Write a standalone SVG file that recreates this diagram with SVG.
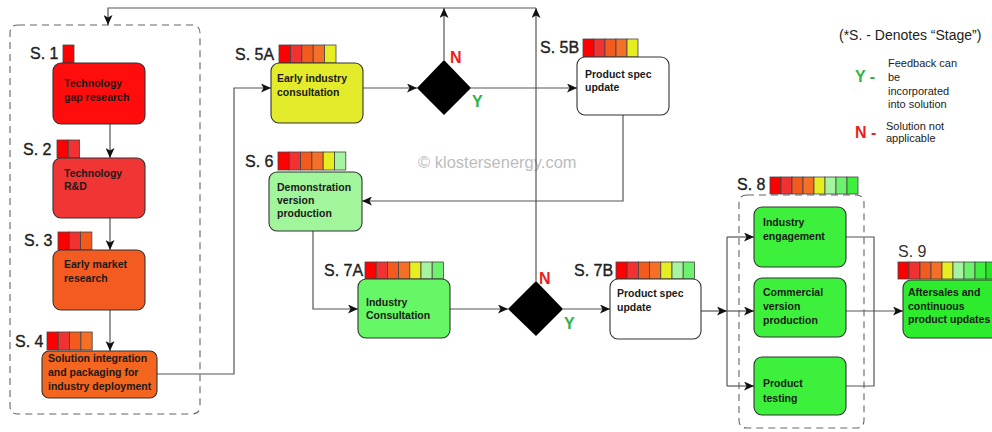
<svg xmlns="http://www.w3.org/2000/svg" width="992" height="432" viewBox="0 0 992 432">
<defs>
<marker id="ah" markerUnits="userSpaceOnUse" markerWidth="11" markerHeight="9" refX="10" refY="4.5" orient="auto">
<path d="M0,0 L10,4.5 L0,9 L2.5,4.5 z" fill="#111"/>
</marker>
<style>
.bg{fill:#fff}
.box{stroke:#333;stroke-width:1.1}
.cell{stroke:#444;stroke-width:0.8}
.lbl{font-family:"Liberation Sans",Arial,sans-serif;font-size:16px;fill:#222;stroke:#222;stroke-width:0.35}
.t{font-family:"Liberation Sans",Arial,sans-serif;font-size:10.5px;font-weight:bold;fill:#1a1a1a}
.con{fill:none;stroke:#555;stroke-width:1.2}
.dash{fill:none;stroke:#666;stroke-width:1.1;stroke-dasharray:7 5}
.c1{fill:#ff0000}.c2{fill:#f03232}.c3{fill:#f25a1e}.c4{fill:#f47026}.c5{fill:#e6ee22}.c6{fill:#a6f3a0}.c7{fill:#6cf26c}.c8{fill:#3cf03c}.c9{fill:#22e822}
.leg{font-family:"Liberation Sans",Arial,sans-serif;font-size:11px;fill:#222}
.yn{font-family:"Liberation Sans",Arial,sans-serif;font-size:16px;font-weight:bold}
</style>
</defs>
<rect class="bg" x="0" y="0" width="992" height="432"/>

<text x="418" y="168" font-family="Liberation Sans,Arial,sans-serif" font-size="16.5" fill="#bdbdbd">© klostersenergy.com</text>

<path class="dash" d="M18,25 H192 Q200,25 200,33 V406 Q200,414 192,414 H18 Q10,414 10,406 V33 Q10,25 18,25 Z"/>
<path class="dash" d="M747,195 H856 Q864,195 864,203 V420 Q864,428 856,428 H747 Q739,428 739,420 V203 Q739,195 747,195 Z"/>

<g id="connectors">
<path class="con" marker-end="url(#ah)" d="M110,124 V158"/>
<path class="con" marker-end="url(#ah)" d="M110,218 V250"/>
<path class="con" marker-end="url(#ah)" d="M110,310 V351"/>
<path class="con" marker-end="url(#ah)" d="M157,374 H234 V88 H271"/>
<path class="con" marker-end="url(#ah)" d="M363,88 H417"/>
<path class="con" marker-end="url(#ah)" d="M471,88 H577"/>
<path class="con" marker-end="url(#ah)" d="M444,60 V8"/>
<path class="con" marker-end="url(#ah)" d="M536,281 V8"/>
<path class="con" marker-end="url(#ah)" d="M536,8 H108 V25"/>
<path class="con" marker-end="url(#ah)" d="M623,115 V201 H362"/>
<path class="con" marker-end="url(#ah)" d="M313,231 V309 H358"/>
<path class="con" marker-end="url(#ah)" d="M450,309 H508"/>
<path class="con" marker-end="url(#ah)" d="M563,309 H610"/>
<path class="con" marker-end="url(#ah)" d="M701,311 H727"/>
<path class="con" d="M727,237 V386"/>
<path class="con" marker-end="url(#ah)" d="M727,237 H754"/>
<path class="con" marker-end="url(#ah)" d="M727,311 H754"/>
<path class="con" marker-end="url(#ah)" d="M727,386 H754"/>
<path class="con" d="M846,237 H874 V386 H846"/>
<path class="con" marker-end="url(#ah)" d="M846,311 H903"/>
</g>

<g id="s1">
<text class="lbl" x="30" y="59">S. 1</text>
<rect class="cell c1" x="63" y="45" width="11" height="18"/>
<rect class="box" x="53" y="63" width="92" height="61" rx="8" fill="#ff0d0d"/>
<text class="t" x="64" y="87">Technology</text>
<text class="t" x="64" y="101">gap research</text>
</g>

<g id="s2">
<text class="lbl" x="23" y="155">S. 2</text>
<rect class="cell c1" x="57" y="140" width="11.3" height="18"/>
<rect class="cell c2" x="68.3" y="140" width="11.3" height="18"/>
<rect class="box" x="53" y="158" width="92" height="60" rx="8" fill="#f03535"/>
<text class="t" x="64" y="177">Technology</text>
<text class="t" x="64" y="190">R&amp;D</text>
</g>

<g id="s3">
<text class="lbl" x="24" y="246">S. 3</text>
<rect class="cell c1" x="58" y="232" width="11.3" height="18"/>
<rect class="cell c2" x="69.3" y="232" width="11.3" height="18"/>
<rect class="cell c3" x="80.6" y="232" width="11.3" height="18"/>
<rect class="box" x="53" y="250" width="92" height="60" rx="8" fill="#f45b21"/>
<text class="t" x="64" y="268">Early market</text>
<text class="t" x="64" y="282">research</text>
</g>

<g id="s4">
<text class="lbl" x="15" y="347">S. 4</text>
<rect class="cell c1" x="47" y="332" width="11.3" height="18"/>
<rect class="cell c2" x="58.3" y="332" width="11.3" height="18"/>
<rect class="cell c3" x="69.6" y="332" width="11.3" height="18"/>
<rect class="cell c4" x="80.9" y="332" width="11.3" height="18"/>
<rect class="box" x="42" y="351" width="115" height="47" rx="7" fill="#f4651f"/>
<text class="t" x="48" y="362">Solution integration</text>
<text class="t" x="48" y="376">and packaging for</text>
<text class="t" x="48" y="390">industry deployment</text>
</g>

<g id="s5a">
<text class="lbl" x="235" y="60">S. 5A</text>
<rect class="cell c1" x="279" y="45" width="11.4" height="18"/>
<rect class="cell c2" x="290.4" y="45" width="11.4" height="18"/>
<rect class="cell c3" x="301.8" y="45" width="11.4" height="18"/>
<rect class="cell c4" x="313.2" y="45" width="11.4" height="18"/>
<rect class="cell c5" x="324.6" y="45" width="11.4" height="18"/>
<rect class="box" x="271" y="63" width="92" height="60" rx="8" fill="#e3eb2b"/>
<text class="t" x="277" y="82">Early industry</text>
<text class="t" x="277" y="96">consultation</text>
</g>

<g id="d1">
<polygon points="417,88 444,60 471,88 444,115" fill="#000"/>
<text class="yn" x="450" y="63" fill="#ee1c1c">N</text>
<text class="yn" x="472" y="107" fill="#2db34a">Y</text>
</g>

<g id="s5b">
<text class="lbl" x="540" y="53">S. 5B</text>
<rect class="cell c1" x="583" y="39" width="11" height="18"/>
<rect class="cell c2" x="594" y="39" width="11" height="18"/>
<rect class="cell c3" x="605" y="39" width="11" height="18"/>
<rect class="cell c4" x="616" y="39" width="11" height="18"/>
<rect class="cell c5" x="627" y="39" width="11" height="18"/>
<rect class="box" x="577" y="57" width="92" height="58" rx="8" fill="#fff"/>
<text class="t" x="585" y="78">Product spec</text>
<text class="t" x="585" y="91">update</text>
</g>

<g id="s6">
<text class="lbl" x="245" y="167">S. 6</text>
<rect class="cell c1" x="278" y="152" width="11.3" height="18"/>
<rect class="cell c2" x="289.3" y="152" width="11.3" height="18"/>
<rect class="cell c3" x="300.6" y="152" width="11.3" height="18"/>
<rect class="cell c4" x="311.9" y="152" width="11.3" height="18"/>
<rect class="cell c5" x="323.2" y="152" width="11.3" height="18"/>
<rect class="cell c6" x="334.5" y="152" width="11.3" height="18"/>
<rect class="box" x="269" y="172" width="93" height="59" rx="8" fill="#a1f59b"/>
<text class="t" x="277" y="191">Demonstration</text>
<text class="t" x="277" y="204">version</text>
<text class="t" x="277" y="217">production</text>
</g>

<g id="s7a">
<text class="lbl" x="324" y="276">S. 7A</text>
<rect class="cell c1" x="365" y="262" width="11.2" height="17"/>
<rect class="cell c2" x="376.2" y="262" width="11.2" height="17"/>
<rect class="cell c3" x="387.4" y="262" width="11.2" height="17"/>
<rect class="cell c4" x="398.6" y="262" width="11.2" height="17"/>
<rect class="cell c5" x="409.8" y="262" width="11.2" height="17"/>
<rect class="cell c6" x="421" y="262" width="11.2" height="17"/>
<rect class="cell c7" x="432.2" y="262" width="11.2" height="17"/>
<rect class="box" x="358" y="279" width="92" height="59" rx="8" fill="#66f766"/>
<text class="t" x="366" y="306">Industry</text>
<text class="t" x="366" y="319">Consultation</text>
</g>

<g id="d2">
<polygon points="508,309 536,281 563,309 536,336" fill="#000"/>
<text class="yn" x="539" y="284" fill="#ee1c1c">N</text>
<text class="yn" x="564" y="329" fill="#2db34a">Y</text>
</g>

<g id="s7b">
<text class="lbl" x="574" y="276">S. 7B</text>
<rect class="cell c1" x="616" y="262" width="11.2" height="17"/>
<rect class="cell c2" x="627.2" y="262" width="11.2" height="17"/>
<rect class="cell c3" x="638.4" y="262" width="11.2" height="17"/>
<rect class="cell c4" x="649.6" y="262" width="11.2" height="17"/>
<rect class="cell c5" x="660.8" y="262" width="11.2" height="17"/>
<rect class="cell c6" x="672" y="262" width="11.2" height="17"/>
<rect class="cell c7" x="683.2" y="262" width="11.2" height="17"/>
<rect class="box" x="610" y="279" width="91" height="60" rx="8" fill="#fff"/>
<text class="t" x="617" y="297">Product spec</text>
<text class="t" x="617" y="311">update</text>
</g>

<g id="s8">
<text class="lbl" x="737" y="190">S. 8</text>
<rect class="cell c1" x="770" y="177" width="11" height="17"/>
<rect class="cell c2" x="781" y="177" width="11" height="17"/>
<rect class="cell c3" x="792" y="177" width="11" height="17"/>
<rect class="cell c4" x="803" y="177" width="11" height="17"/>
<rect class="cell c5" x="814" y="177" width="11" height="17"/>
<rect class="cell c6" x="825" y="177" width="11" height="17"/>
<rect class="cell c7" x="836" y="177" width="11" height="17"/>
<rect class="cell c8" x="847" y="177" width="11" height="17"/>
</g>

<g id="s8a">
<rect class="box" x="754" y="207" width="92" height="60" rx="8" fill="#3cf03c"/>
<text class="t" x="763" y="226">Industry</text>
<text class="t" x="763" y="240">engagement</text>
</g>
<g id="s8b">
<rect class="box" x="754" y="278" width="92" height="59" rx="8" fill="#3cf03c"/>
<text class="t" x="763" y="296">Commercial</text>
<text class="t" x="763" y="310">version</text>
<text class="t" x="763" y="324">production</text>
</g>
<g id="s8c">
<rect class="box" x="754" y="357" width="92" height="58" rx="8" fill="#3cf03c"/>
<text class="t" x="763" y="387">Product</text>
<text class="t" x="763" y="402">testing</text>
</g>

<g id="s9">
<text x="898" y="257" font-family="Liberation Sans,Arial,sans-serif" font-size="16" fill="#333">S. 9</text>
<rect class="cell c1" x="898" y="262" width="11" height="17"/>
<rect class="cell c2" x="909" y="262" width="11" height="17"/>
<rect class="cell c3" x="920" y="262" width="11" height="17"/>
<rect class="cell c4" x="931" y="262" width="11" height="17"/>
<rect class="cell c5" x="942" y="262" width="11" height="17"/>
<rect class="cell c6" x="953" y="262" width="11" height="17"/>
<rect class="cell c7" x="964" y="262" width="11" height="17"/>
<rect class="cell c8" x="975" y="262" width="11" height="17"/>
<rect class="cell c9" x="986" y="262" width="11" height="17"/>
<rect class="box" x="903" y="280" width="96" height="58" rx="8" fill="#2deb2d"/>
<text class="t" x="908" y="296">Aftersales and</text>
<text class="t" x="908" y="310">continuous</text>
<text class="t" x="908" y="323">product updates</text>
</g>

<g id="legend">
<text x="839" y="40" font-family="Liberation Sans,Arial,sans-serif" font-size="14" fill="#222">(*S. - Denotes “Stage”)</text>
<text class="yn" x="855" y="82" fill="#2db34a">Y -</text>
<text class="leg" x="888" y="67">Feedback can</text>
<text class="leg" x="888" y="81">be</text>
<text class="leg" x="888" y="95">incorporated</text>
<text class="leg" x="888" y="108">into solution</text>
<text class="yn" x="855" y="138" fill="#ee1c1c">N -</text>
<text class="leg" x="886" y="130">Solution not</text>
<text class="leg" x="886" y="142">applicable</text>
</g>
</svg>
